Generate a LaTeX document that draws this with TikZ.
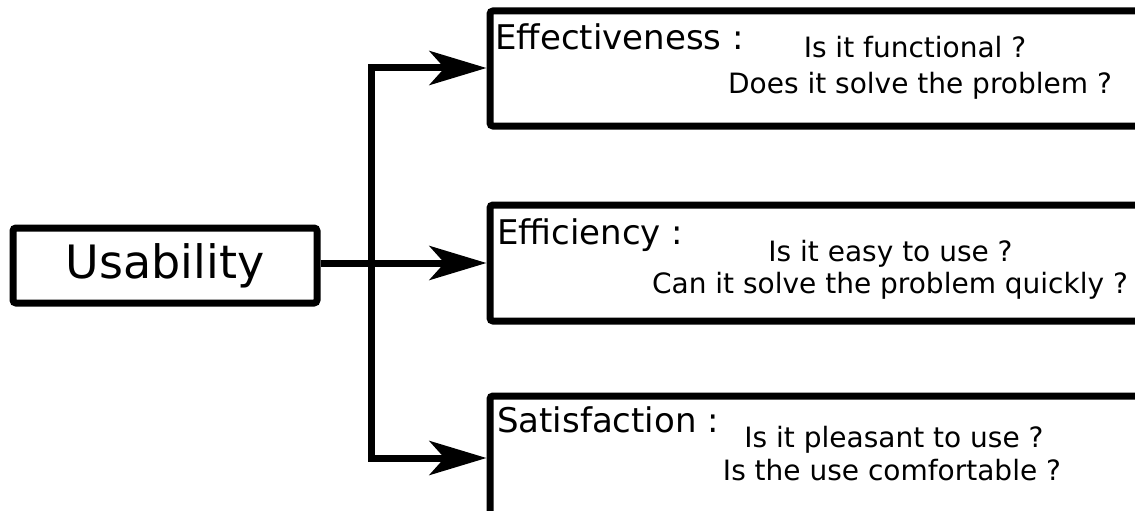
\documentclass[tikz,border=0pt]{standalone}
\usepackage{fontspec}
\setmainfont{DejaVu Sans}
\usetikzlibrary{arrows.meta}
\tikzset{
  conn/.style={line width=7pt, line join=miter, draw=black},
  tipped/.style={conn, -{Stealth[length=57pt, width=34pt, inset=15pt]}},
  bothtipped/.style={conn, {Stealth[length=57pt, width=34pt, inset=15pt]}-{Stealth[length=57pt, width=34pt, inset=15pt]}},
  bigbox/.style={draw=black, line width=7pt, rounded corners=3pt, fill=white, inner sep=0pt, anchor=north west},
  lbl/.style={inner sep=0pt, anchor=base west, font=\fontsize{34}{40}\selectfont},
  qst/.style={inner sep=0pt, anchor=base, font=\fontsize{28}{33}\selectfont},
}
\begin{document}
\begin{tikzpicture}[x=1pt, y=-1pt]
\useasboundingbox (0,0) rectangle (1135,511);
\clip (0,0) rectangle (1135,511);
\fill[white] (0,0) rectangle (1135,511);
% boxes
\node[draw=black, line width=7pt, rounded corners=3pt, inner sep=0pt,
      minimum width=304pt, minimum height=75pt, text height=37pt, text depth=12pt,
      font=\fontsize{46}{54}\selectfont] (us) at (165,265.5) {Usability};
\node[bigbox, minimum width=660pt, minimum height=115pt] (eff) at (486.5,7.5) {};
\node[bigbox, minimum width=660pt, minimum height=116pt] (effi) at (486.5,201.5) {};
\node[bigbox, minimum width=660pt, minimum height=120pt] (sat) at (486.5,392.5) {};
% connectors
\coordinate (jt) at (371,68);
\coordinate (jm) at (371,263);
\coordinate (jb) at (371,458);
\draw[bothtipped] (eff.west |- jt) -- (jt) -- (jb) -- (sat.west |- jb);
\draw[tipped] (us.east |- jm) -- (effi.west |- jm);
% texts
\node[lbl] (efflbl) at (495,49) {Effectiveness :};
\node[qst] (q1) at (915,58) {Is it functional ?};
\node[qst] (q2) at (920,93) {Does it solve the problem ?};
\node[lbl] (effilbl) at (497,244) {Efficiency :};
\node[qst] (q3) at (890.5,261) {Is it easy to use ?};
\node[qst] (q4) at (890,293) {Can it solve the problem quickly ?};
\node[lbl] (satlbl) at (497,432) {Satisfaction :};
\node[qst] (q5) at (894,447) {Is it pleasant to use ?};
\node[qst] (q6) at (892,480) {Is the use comfortable ?};
\end{tikzpicture}
\end{document}
